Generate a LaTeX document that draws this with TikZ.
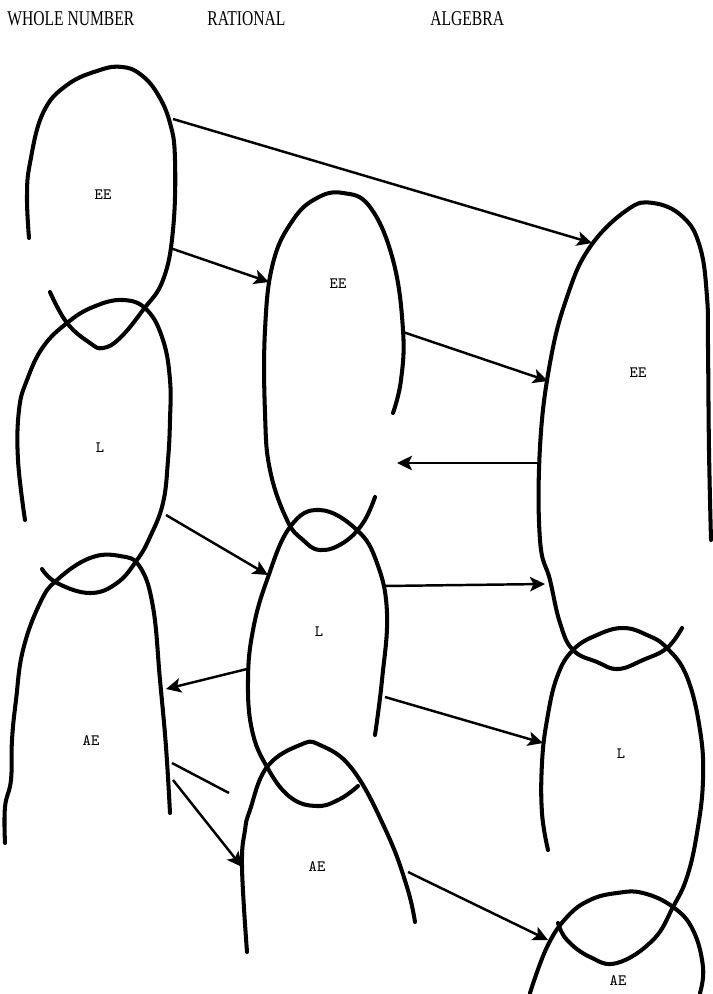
\documentclass[tikz,border=0pt]{standalone}
\usepackage{fontspec}
\usepackage{tikz}
\usetikzlibrary{arrows.meta}
\newfontfamily\headfont[FakeStretch=0.74]{Liberation Serif}

\begin{document}
\begin{tikzpicture}[x=0.02cm,y=-0.02cm,
        loop/.style={line width=2.3pt,line cap=round,smooth,tension=0.7},
        head/.style={anchor=base west,inner sep=0pt,font=\headfont\fontsize{12}{14}\selectfont},
        lbl/.style={inner sep=0pt,font=\ttfamily\fontsize{9}{10}\selectfont},
        arrow/.style={-{Stealth[length=3mm,width=2.9mm,inset=0.7mm]},line width=1.4pt},
        link/.style={line width=1.4pt}
      ]
        \useasboundingbox (0,0) rectangle (713,994);
        \node[head] (wn) at (7,25) {WHOLE NUMBER};
        \node[head] (rat) at (207,25) {RATIONAL};
        \node[head] (alg) at (430,25) {ALGEBRA};

        \draw[loop] plot coordinates {(29,238) (27,197) (30,163) (43,113) (67,85) (100,70) (122,67) (140,74) (157,93) (170,123) (175,160) (173,230) (163,280) (143,310) (120,338) (103,348) (90,343) (67,323) (50,292)};
        \draw[loop] plot coordinates {(25,520) (18,460) (19,410) (27,380) (43,347) (67,323) (93,307) (123,300) (147,310) (163,340) (170,380) (170,420) (168,460) (163,503) (150,537) (137,560) (117,583) (90,593) (57,583) (42,569)};
        \draw[loop] plot coordinates {(5,843) (5,807) (11,780) (12,740) (16,700) (23,650) (40,603) (57,580) (90,558) (120,556) (140,567) (153,607) (160,680) (166,747) (170,813)};
        \draw[loop] plot coordinates {(393,413) (401,380) (403,330) (393,260) (370,207) (343,193) (317,198) (293,220) (273,263) (265,330) (265,413) (270,470) (287,520) (303,540) (320,550) (343,543) (363,523) (375,497)};
        \draw[loop] plot coordinates {(375,735) (382,680) (387,613) (377,563) (357,530) (320,510) (290,527) (267,580) (253,630) (248,680) (252,730) (267,767) (290,797) (317,806) (340,799) (358,786)};
        \draw[loop] plot coordinates {(247,952) (242,867) (245,830) (250,810) (267,767) (300,745) (320,745) (353,770) (387,833) (407,887) (415,922)};
        \draw[loop] plot coordinates {(711,540) (709,450) (708,347) (707,297) (700,247) (683,217) (653,203) (627,210) (590,247) (567,297) (550,363) (540,447) (540,540) (550,580) (560,623) (573,650) (597,662) (618,669) (643,660) (667,648) (682,628)};
        \draw[loop] plot coordinates {(548,850) (542,813) (542,763) (547,720) (557,677) (573,650) (597,635) (623,628) (647,635) (667,648) (687,677) (700,730) (703,780) (697,833) (687,877) (673,907) (653,940) (617,963) (590,957) (567,940) (558,923)};
        \draw[loop] plot coordinates {(530,993) (547,947) (567,917) (590,900) (617,893) (643,893) (673,907) (693,930) (703,967) (700,993)};

        \node[lbl] (wnEE) at (103,195) {EE};
        \node[lbl] (wnL) at (100,448) {L};
        \node[lbl] (wnAE) at (91,741) {AE};
        \node[lbl] (ratEE) at (338,284) {EE};
        \node[lbl] (ratL) at (319,632) {L};
        \node[lbl] (ratAE) at (317,867) {AE};
        \node[lbl] (algEE) at (638,373) {EE};
        \node[lbl] (algL) at (621,754) {L};
        \node[lbl] (algAE) at (618,981) {AE};

        \coordinate (wnEEa) at (173,119);
        \coordinate (wnEEb) at (173,249);
        \coordinate (wnLa) at (166,515);
        \coordinate (wnAEin) at (166,689);
        \coordinate (wnAEa) at (172,763);
        \coordinate (wnAEend) at (229,793);
        \coordinate (wnAEb) at (173,780);
        \coordinate (ratEEin) at (269,282);
        \coordinate (ratEEa) at (403,332);
        \coordinate (ratEEend) at (397,463);
        \coordinate (ratLin) at (268,575);
        \coordinate (ratLa) at (383,586);
        \coordinate (ratLb) at (247,669);
        \coordinate (ratLc) at (385,697);
        \coordinate (ratAEin) at (242,867);
        \coordinate (ratAEa) at (408,872);
        \coordinate (algEEin1) at (592,243);
        \coordinate (algEEin2) at (548,381);
        \coordinate (algEEa) at (539,463);
        \coordinate (algEEin3) at (545,584);
        \coordinate (algLin) at (543,743);
        \coordinate (algAEin) at (548,940);

        \draw[arrow] (wnEEa) -- (algEEin1);
        \draw[arrow] (wnEEb) -- (ratEEin);
        \draw[arrow] (ratEEa) -- (algEEin2);
        \draw[arrow] (algEEa) -- (ratEEend);
        \draw[arrow] (wnLa) -- (ratLin);
        \draw[arrow] (ratLa) -- (algEEin3);
        \draw[arrow] (ratLb) -- (wnAEin);
        \draw[arrow] (ratLc) -- (algLin);
        \draw[link] (wnAEa) -- (wnAEend);
        \draw[arrow] (wnAEb) -- (ratAEin);
        \draw[arrow] (ratAEa) -- (algAEin);
      \end{tikzpicture}
\end{document}
